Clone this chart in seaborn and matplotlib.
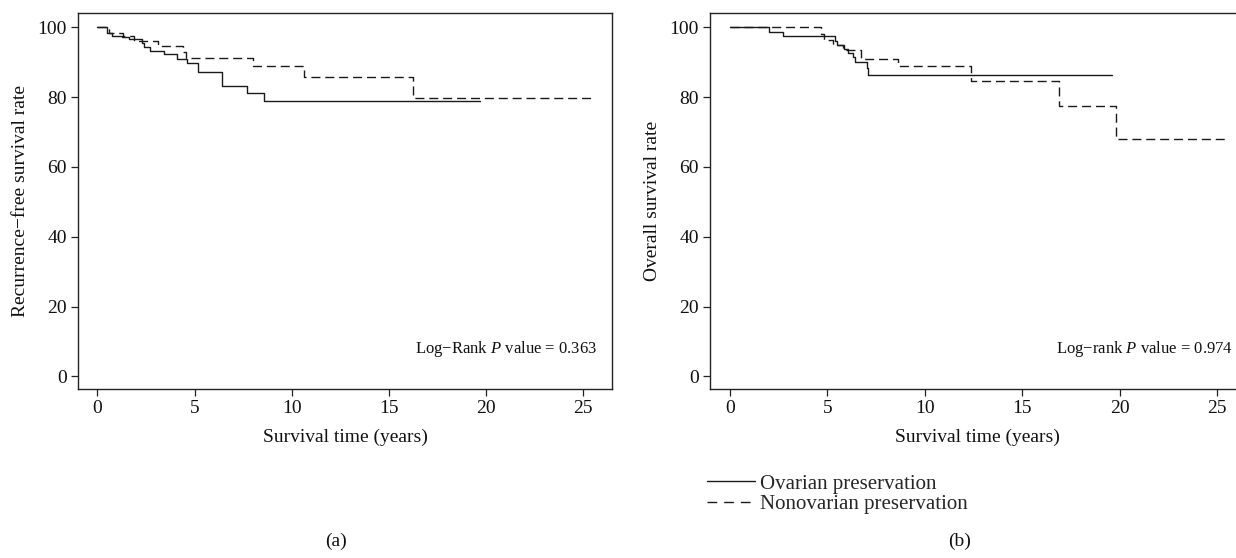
import matplotlib
matplotlib.use("Agg")
import matplotlib.pyplot as plt
import seaborn as sns
import pandas as pd
from matplotlib.lines import Line2D

# ---------------- data ----------------
# (a) Recurrence-free survival
rfs_ovarian_t = [0, 0.5, 0.73, 1.25, 1.64, 2.28, 2.4, 2.71, 3.43, 4.12, 4.6, 5.2, 6.41, 7.7, 8.59, 19.7]
rfs_ovarian_s = [100, 98.3, 97.6, 97.1, 96.6, 95.6, 94.4, 93.2, 92.3, 90.8, 89.7, 87.3, 83.2, 81.3, 79.0, 79.0]
rfs_non_t = [0, 0.6, 1.3, 1.9, 3.1, 4.4, 4.55, 8.0, 10.65, 16.24, 25.65]
rfs_non_s = [100, 98.5, 97.5, 96.2, 94.7, 92.9, 91.1, 89.0, 85.8, 79.7, 79.7]

# (b) Overall survival
os_ovarian_t = [0, 2.0, 2.7, 5.39, 5.48, 5.85, 6.08, 6.33, 6.42, 7.02, 7.1, 19.6]
os_ovarian_s = [100, 98.8, 97.6, 96.2, 95.0, 93.7, 92.6, 91.4, 90.2, 88.3, 86.3, 86.3]
os_non_t = [0, 4.67, 4.85, 5.3, 5.8, 6.7, 8.6, 12.35, 16.9, 19.8, 25.5]
os_non_s = [100, 98.2, 96.4, 95.0, 93.5, 90.9, 88.9, 84.5, 77.6, 67.9, 67.9]

groups = ["Ovarian preservation", "Nonovarian preservation"]
x_ticks = [0, 5, 10, 15, 20, 25]
y_ticks = [0, 20, 40, 60, 80, 100]
p_text = ["0.363", "0.974"]


def make_df(t1, s1, t2, s2):
    d1 = pd.DataFrame({"t": t1, "s": s1, "group": groups[0]})
    d2 = pd.DataFrame({"t": t2, "s": s2, "group": groups[1]})
    return pd.concat([d1, d2], ignore_index=True)


df_rfs = make_df(rfs_ovarian_t, rfs_ovarian_s, rfs_non_t, rfs_non_s)
df_os = make_df(os_ovarian_t, os_ovarian_s, os_non_t, os_non_s)

# ---------------- style ----------------
sns.set_style("ticks")
plt.rcParams["font.family"] = ["Liberation Serif", "DejaVu Serif"]
plt.rcParams["mathtext.fontset"] = "custom"
plt.rcParams["mathtext.rm"] = "Liberation Serif"
plt.rcParams["mathtext.it"] = "Liberation Serif:italic"
plt.rcParams["axes.unicode_minus"] = True

W, H = 1236, 558
fig = plt.figure(figsize=(W / 100, H / 100), dpi=100)

def px_axes(x0, y0, x1, y1):
    return fig.add_axes([x0 / W, 1 - y1 / H, (x1 - x0) / W, (y1 - y0) / H])

ax1 = px_axes(78, 13, 612, 389)
ax2 = px_axes(710, 13, 1245, 389)

line_col = "#1a1a1a"
dash_pat = (6.5, 3.5)
lw = 1.0
fs = 14
txt_col = "#111111"

for ax, df, xlim, ylab, ptxt, px_right in [
    (ax1, df_rfs, (-1.0, 26.5), "Recurrence\u2212free survival rate", "Log\u2212Rank $P$ value = " + p_text[0], 597),
    (ax2, df_os, (-1.027, 26.44), "Overall survival rate", "Log\u2212rank $P$ value = " + p_text[1], 1233),
]:
    sns.lineplot(data=df, x="t", y="s", style="group", style_order=groups,
                 dashes={groups[0]: "", groups[1]: dash_pat},
                 color=line_col, linewidth=lw, drawstyle="steps-post",
                 estimator=None, sort=False, legend=False, ax=ax)
    ax.set_xlim(*xlim)
    ax.set_ylim(-3.6, 104.1)
    ax.set_xticks(x_ticks)
    ax.set_yticks(y_ticks)
    ax.tick_params(axis="both", labelsize=fs, length=5, width=0.9,
                   color="#222222", labelcolor=txt_col, pad=3)
    ax.set_xlabel("Survival time (years)", fontsize=fs, labelpad=8, color=txt_col)
    ax.set_ylabel(ylab, fontsize=fs, labelpad=6, color=txt_col)
    for sp in ax.spines.values():
        sp.set_visible(True)
        sp.set_linewidth(1.0)
        sp.set_color("#222222")
    fig.text(px_right / W, 1 - 349 / H, ptxt, ha="right", va="center",
             fontsize=12, color=txt_col)

ax2.spines["right"].set_visible(False)

fig.text(336 / W, 1 - 541 / H, "(a)", ha="center", va="center", fontsize=fs, color=txt_col)
fig.text(960 / W, 1 - 541 / H, "(b)", ha="center", va="center", fontsize=fs, color=txt_col)

handles = [Line2D([], [], color=line_col, lw=lw, linestyle="-"),
           Line2D([], [], color=line_col, lw=lw, linestyle=(0, (7.0, 5.0)))]
fig.legend(handles, groups, loc="upper left", bbox_to_anchor=(703 / W, 1 - 470 / H),
           frameon=False, fontsize=15, handlelength=2.3, handletextpad=0.25,
           labelspacing=0.05, borderaxespad=0, borderpad=0.2)

fig.savefig("out.png", dpi=100, facecolor="white")
